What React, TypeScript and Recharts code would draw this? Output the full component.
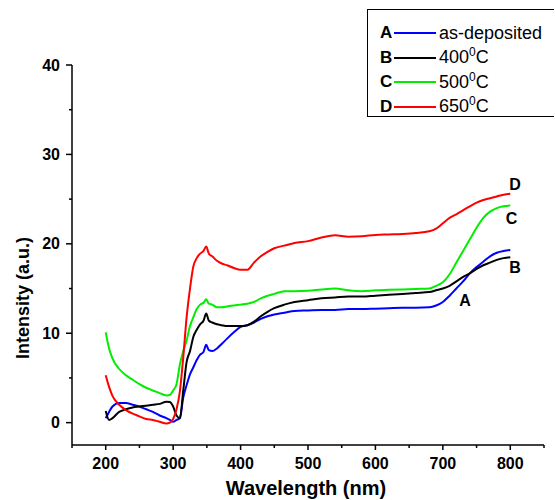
import { LineChart, Line, XAxis, YAxis, Legend, ReferenceDot } from 'recharts';

const wavelength = [
  200, 205, 210, 220, 230, 240, 250, 260, 270, 280, 290, 295, 300, 305, 310, 315, 320, 325, 330, 335,
  340, 345, 349, 353, 358, 365, 372, 380, 390, 400, 410, 420, 430, 440, 450, 465, 480, 500, 520, 540,
  560, 580, 600, 620, 640, 660, 680, 690, 700, 710, 720, 730, 740, 750, 760, 770, 780, 790, 800,
];

// A: as-deposited
const intensityA = [
  0.5, 1.2, 1.8, 2.2, 2.2, 2.0, 1.8, 1.5, 1.2, 0.8, 0.5, 0.3, 0.1, 0.3, 0.5, 2.8, 4.2, 5.4, 6.2, 7.0,
  7.6, 7.9, 8.7, 8.1, 8.0, 8.3, 8.8, 9.4, 10.1, 10.7, 10.9, 11.2, 11.6, 11.9, 12.1, 12.3, 12.5, 12.55, 12.6, 12.6,
  12.7, 12.7, 12.75, 12.8, 12.85, 12.85, 12.9, 13.1, 13.5, 14.2, 15.0, 15.8, 16.7, 17.4, 18.0, 18.6, 19.0, 19.2, 19.3,
];
// B: 400 C
const intensityB = [
  1.3, 0.3, 0.5, 1.2, 1.5, 1.7, 1.8, 1.9, 2.0, 2.1, 2.35, 2.3, 1.8, 0.8, 0.5, 3.6, 6.8, 8.0, 9.6, 10.4,
  11.0, 11.4, 12.2, 11.4, 11.2, 11.0, 10.9, 10.8, 10.8, 10.8, 10.9, 11.3, 11.9, 12.4, 12.8, 13.2, 13.5, 13.7, 13.9, 14.0,
  14.1, 14.1, 14.2, 14.3, 14.4, 14.5, 14.6, 14.8, 15.0, 15.3, 15.8, 16.3, 16.7, 17.2, 17.6, 17.9, 18.2, 18.4, 18.5,
];
// C: 500 C
const intensityC = [
  10.1, 8.3, 7.2, 6.0, 5.3, 4.8, 4.3, 3.9, 3.6, 3.3, 3.05, 3.1, 3.6, 4.3, 6.5, 8.0, 9.2, 10.8, 11.8, 12.7,
  13.2, 13.4, 13.8, 13.3, 13.2, 12.9, 12.9, 13.0, 13.1, 13.2, 13.3, 13.5, 13.9, 14.2, 14.4, 14.7, 14.7, 14.75, 14.9, 15.0,
  14.8, 14.7, 14.8, 14.85, 14.9, 14.95, 15.0, 15.3, 15.7, 16.6, 17.9, 19.2, 20.5, 21.8, 22.9, 23.6, 24.0, 24.2, 24.3,
];
// D: 650 C
const intensityD = [
  5.3, 4.0, 3.0, 2.0, 1.4, 1.0, 0.7, 0.4, 0.3, 0.1, -0.1, 0.0, 0.4, 1.5, 3.5, 7.3, 11.8, 15.0, 17.5, 18.4,
  18.9, 19.2, 19.7, 18.9, 18.6, 18.1, 17.8, 17.6, 17.3, 17.1, 17.1, 17.9, 18.6, 19.1, 19.5, 19.8, 20.1, 20.3, 20.7, 20.95,
  20.8, 20.85, 21.0, 21.05, 21.1, 21.2, 21.4, 21.7, 22.3, 22.9, 23.3, 23.75, 24.2, 24.6, 24.9, 25.1, 25.3, 25.5, 25.6,
];

const xTicks = [150, 200, 250, 300, 350, 400, 450, 500, 550, 600, 650, 700, 750, 800, 850];
const yTicks = [0, 5, 10, 15, 20, 25, 30, 35, 40];

const seriesKeys = ['A', 'B', 'C', 'D'];
const seriesNames = ['as-deposited', '400', '500', '650'];
const seriesColors = ['#0000ff', '#000000', '#00ee00', '#ff0000'];

// where the A-D letters sit next to the curves
const curveLabelX = [733, 807, 802, 807];
const curveLabelY = [13.7, 17.4, 22.9, 26.6];

const data = wavelength.map((w, i) => ({
  w,
  A: intensityA[i],
  B: intensityB[i],
  C: intensityC[i],
  D: intensityD[i],
}));

const FONT = 'Arial, "Liberation Sans", sans-serif';

const XTick = ({ x, y, payload }: any) => {
  const major = payload.value % 100 === 0;
  return (
    <g>
      <line x1={x} y1={y} x2={x} y2={y + (major ? 5 : 3)} stroke="#000" strokeWidth={1.5} />
      {major && payload.value !== 850 && (
        <text x={x} y={y + 18} textAnchor="middle" dominantBaseline="central" fontFamily={FONT} fontWeight="bold" fontSize={16} fill="#000">
          {payload.value}
        </text>
      )}
    </g>
  );
};

const YTick = ({ x, y, payload }: any) => {
  const major = payload.value % 10 === 0;
  return (
    <g>
      <line x1={x} y1={y} x2={x - (major ? 6 : 3)} y2={y} stroke="#000" strokeWidth={1.5} />
      {major && (
        <text x={x - 12} y={y} textAnchor="end" dominantBaseline="central" fontFamily={FONT} fontWeight="bold" fontSize={16} fill="#000">
          {payload.value}
        </text>
      )}
    </g>
  );
};

const LegendBox = () => (
  <div
    style={{
      width: 187,
      height: 108,
      borderTop: '1px solid #000',
      borderLeft: '1px solid #000',
      borderBottom: '1px solid #000',
      boxSizing: 'border-box',
      paddingTop: 11,
      fontFamily: FONT,
      fontSize: 18,
      color: '#000',
      background: '#fff',
    }}
  >
    {seriesKeys.map((k, i) => (
      <div key={k} style={{ height: 24.5, display: 'flex', alignItems: 'center' }}>
        <span style={{ width: 14, marginLeft: 12, fontWeight: 'bold', fontSize: 17 }}>{k}</span>
        <span style={{ width: 42, height: 2, background: seriesColors[i], display: 'inline-block' }} />
        <span style={{ marginLeft: 3 }}>
          {i === 0 ? (
            seriesNames[i]
          ) : (
            <>
              {seriesNames[i]}
              <span style={{ fontSize: 12, position: 'relative', top: -7 }}>0</span>C
            </>
          )}
        </span>
      </div>
    ))}
  </div>
);

export default function App() {
  return (
    <div style={{ position: 'absolute', left: 0, top: 0, width: 555, height: 500, background: '#fff' }}>
      <LineChart width={555} height={500} data={data} margin={{ top: 65, right: 11, left: 12, bottom: 0 }}>
        <XAxis
          dataKey="w"
          type="number"
          domain={[150, 850]}
          ticks={xTicks}
          interval={0}
          tickSize={0}
          tickMargin={0}
          tickLine={false}
          tick={<XTick />}
          height={55}
          axisLine={{ stroke: '#000', strokeWidth: 1.5 }}
          label={({ viewBox }: any) => (
            <text
              x={viewBox.x + viewBox.width / 2 - 2}
              y={viewBox.y + 43}
              textAnchor="middle"
              dominantBaseline="central"
              fontFamily={FONT}
              fontWeight="bold"
              fontSize={20}
              fill="#000"
            >
              Wavelength (nm)
            </text>
          )}
        />
        <YAxis
          type="number"
          domain={[-2.5, 40]}
          ticks={yTicks}
          interval={0}
          width={60}
          tickSize={0}
          tickMargin={0}
          tickLine={false}
          tick={<YTick />}
          axisLine={{ stroke: '#000', strokeWidth: 1.5 }}
          label={({ viewBox }: any) => (
            <text
              x={viewBox.x + 11}
              y={viewBox.y + viewBox.height / 2 + 43}
              textAnchor="middle"
              dominantBaseline="central"
              transform={`rotate(-90, ${viewBox.x + 11}, ${viewBox.y + viewBox.height / 2 + 43})`}
              fontFamily={FONT}
              fontWeight="bold"
              fontSize={18}
              fill="#000"
            >
              Intensity (a.u.)
            </text>
          )}
        />
        <Legend
          layout="vertical"
          align="center"
          verticalAlign="middle"
          content={<LegendBox />}
          wrapperStyle={{ position: 'absolute', top: 9, left: 367, width: 188 }}
        />
        {seriesKeys.map((k, i) => (
          <Line
            key={k}
            dataKey={k}
            name={seriesNames[i]}
            type="monotone"
            stroke={seriesColors[i]}
            strokeWidth={2}
            dot={false}
            isAnimationActive={false}
          />
        ))}
        {seriesKeys.map((k, i) => (
          <ReferenceDot
            key={`lbl-${k}`}
            x={curveLabelX[i]}
            y={curveLabelY[i]}
            r={0}
            fill="none"
            stroke="none"
            ifOverflow="visible"
            label={{ value: k, position: 'center', fontFamily: FONT, fontWeight: 'bold', fontSize: 16, fill: '#000' }}
          />
        ))}
      </LineChart>
    </div>
  );
}
